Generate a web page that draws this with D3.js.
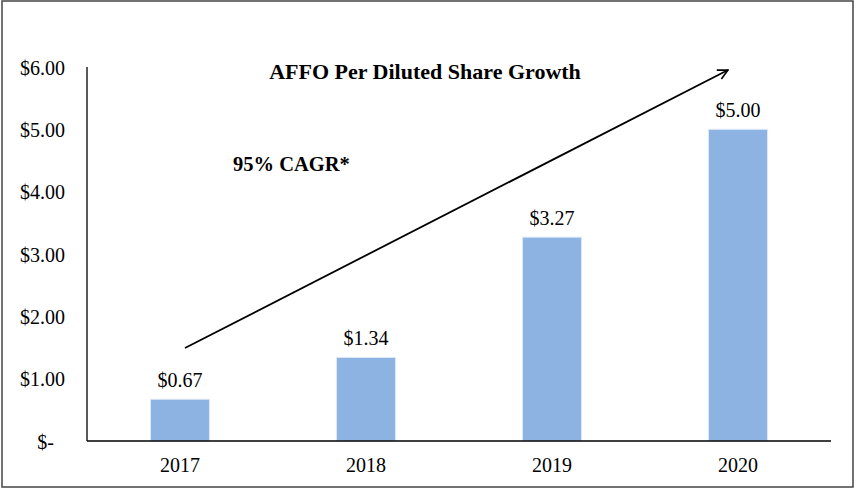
<!DOCTYPE html>
<html><head><meta charset="utf-8">
<script src="https://cdn.jsdelivr.net/npm/d3@7"></script>
<style>body{margin:0;background:#fff}svg{display:block}text{font-family:"Liberation Serif","Times New Roman",serif;fill:#000}</style>
</head><body><svg id="c" width="856" height="490"></svg>
<script>
const categories = ["2017","2018","2019","2020"];
const values = [0.67, 1.34, 3.27, 5.00];
const valueLabels = ["$0.67","$1.34","$3.27","$5.00"];
const tickValues = [0,1,2,3,4,5,6];
const tickLabels = ["$-","$1.00","$2.00","$3.00","$4.00","$5.00","$6.00"];
const title = "AFFO Per Diluted Share Growth";
const cagrText = "95% CAGR*";

const svg = d3.select("#c");
// frame
svg.append("rect").attr("x",2).attr("y",1).attr("width",851).attr("height",486)
  .attr("fill","none").attr("stroke","#444").attr("stroke-width",1.5);

const x = d3.scaleBand().domain(categories).range([87,831]).paddingInner(0.683).paddingOuter(0.3415);
const y = d3.scaleLinear().domain([0,6]).range([441,67]);

// bars
svg.selectAll("rect.bar").data(values).join("rect").attr("class","bar")
  .attr("x",(d,i)=>x(categories[i])).attr("width",x.bandwidth())
  .attr("y",d=>y(d)).attr("height",d=>y(0)-y(d))
  .attr("fill","#8db3e2").attr("stroke","#dce8f6").attr("stroke-width",1);

// y axis
const ya = svg.append("g").attr("transform","translate(87,0)")
  .call(d3.axisLeft(y).tickValues(tickValues).tickSize(0).tickFormat((d,i)=>tickLabels[i]));
ya.select(".domain").attr("stroke","#000").attr("stroke-width",1.3).attr("d","M0,67V441");
ya.selectAll("text").attr("x",-22).attr("dy","0.35em")
  .style("font-family","'Liberation Serif',serif").style("font-size","20px").attr("fill","#000")
  .attr("dx",(d)=>d===0?-11:0);

// x axis
const xa = svg.append("g").attr("transform","translate(0,441)")
  .call(d3.axisBottom(x).tickSize(0));
xa.select(".domain").attr("stroke","#000").attr("stroke-width",1.3).attr("d","M87,0H831");
xa.selectAll("text").attr("y",17).attr("dy","0.71em")
  .style("font-family","'Liberation Serif',serif").style("font-size","20px").attr("fill","#000");

// value labels
svg.selectAll("text.vl").data(values).join("text").attr("class","vl")
  .attr("x",(d,i)=>x(categories[i])+x.bandwidth()/2).attr("y",d=>y(d)-12)
  .attr("text-anchor","middle").style("font-size","20px").text((d,i)=>valueLabels[i]);

// title
svg.append("text").attr("x",425).attr("y",79).attr("text-anchor","middle")
  .style("font-size","22px").style("font-weight","bold").text(title);
svg.append("text").attr("x",233).attr("y",171)
  .style("font-size","20.5px").style("font-weight","bold").text(cagrText);

// arrow
svg.append("defs").append("marker").attr("id","ah").attr("viewBox","0 0 12 12")
  .attr("refX",11).attr("refY",6).attr("markerWidth",12).attr("markerHeight",12)
  .attr("markerUnits","userSpaceOnUse").attr("orient","auto")
  .append("path").attr("d","M1,1L11,6L1,11").attr("fill","none").attr("stroke","#000").attr("stroke-width",1.6);
svg.append("line").attr("x1",185).attr("y1",348).attr("x2",728).attr("y2",70)
  .attr("stroke","#000").attr("stroke-width",1.8).attr("marker-end","url(#ah)");
</script></body></html>
